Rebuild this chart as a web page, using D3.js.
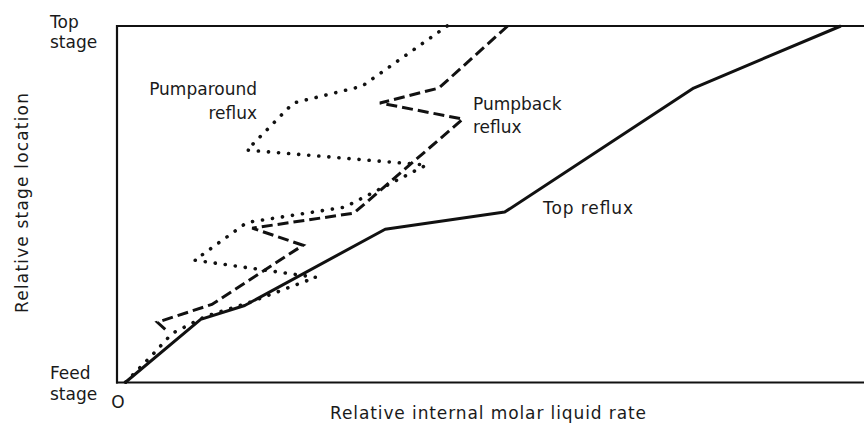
<!DOCTYPE html>
<html>
<head>
<meta charset="utf-8">
<script src="https://cdn.jsdelivr.net/npm/d3@7"></script>
<style>
  html, body { margin: 0; padding: 0; background: #fff; }
  svg { display: block; }
  text { font-family: "DejaVu Sans", "Liberation Sans", sans-serif; font-weight: 400; fill: #1a1a1a; }
</style>
</head>
<body>
<svg id="chart" width="864" height="428"></svg>
<script>
// Relative internal liquid rate (x, % of full scale) vs relative stage location (y, feed = 0, top = 100)
const topRefluxX = [1.1, 11.2, 17.1, 35.9, 51.9, 77.2, 96.9];
const topRefluxY = [0, 17.7, 21.6, 43.0, 47.8, 82.6, 100];

const pumpbackX = [52.3, 43.1, 35.2, 46.3, 31.7, 18.1, 24.9, 12.7, 5.4, 6.6];
const pumpbackY = [100, 82.6, 78.4, 73.9, 47.5, 43.3, 38.5, 21.9, 16.9, 14.6];

const pumparoundX = [44.2, 32.8, 23.6, 17.4, 41.4, 30.5, 17.4, 10.4, 26.6, 17.8, 11.8, 7.4, 4.4, 1.1];
const pumparoundY = [100, 83.1, 78.4, 65.2, 61.0, 49.2, 44.9, 34.3, 29.5, 22.5, 18.5, 13.8, 7.0, 0];

const yEndLabels = [["Top", "stage"], ["Feed", "stage"]];
const xOriginLabel = "O";
const xTitle = "Relative internal molar liquid rate";
const yTitle = "Relative stage location";

const svg = d3.select("#chart");
const x = d3.scaleLinear().domain([0, 100]).range([117, 864]);
const y = d3.scaleLinear().domain([0, 100]).range([382.5, 26]);

const zip = (xs, ys) => xs.map((v, i) => [v, ys[i]]);
const line = d3.line().x(d => x(d[0])).y(d => y(d[1]));

// frame: left, top and bottom edges (the right side runs off the page)
const frame = svg.append("g").attr("stroke", "#111").attr("stroke-width", 2.2).attr("fill", "none");
frame.append("line").attr("x1", x(0)).attr("x2", x(0)).attr("y1", y(100) - 1).attr("y2", y(0) + 1);
frame.append("line").attr("x1", x(0) - 1).attr("x2", 864).attr("y1", y(100)).attr("y2", y(100));
frame.append("line").attr("x1", x(0) - 1).attr("x2", 864).attr("y1", y(0)).attr("y2", y(0));

// profiles
svg.append("path")
  .datum(zip(topRefluxX, topRefluxY))
  .attr("d", line)
  .attr("fill", "none").attr("stroke", "#111").attr("stroke-width", 3)
  .attr("stroke-linejoin", "round");

svg.append("path")
  .datum(zip(pumpbackX, pumpbackY))
  .attr("d", line)
  .attr("fill", "none").attr("stroke", "#111").attr("stroke-width", 3)
  .attr("stroke-dasharray", "11,5")
  .attr("stroke-linejoin", "miter");

svg.append("path")
  .datum(zip(pumparoundX, pumparoundY))
  .attr("d", line)
  .attr("fill", "none").attr("stroke", "#111").attr("stroke-width", 3.6)
  .attr("stroke-linecap", "round")
  .attr("stroke-dasharray", "0.1,10");

// text helper
function label(tx, ty, str, opts = {}) {
  const t = svg.append("text")
    .attr("x", tx).attr("y", ty)
    .attr("font-size", opts.size || 17)
    .attr("text-anchor", opts.anchor || "start")
    .text(str);
  if (opts.width) t.attr("textLength", opts.width).attr("lengthAdjust", "spacing");
  if (opts.rotate) t.attr("transform", `rotate(-90 ${tx} ${ty})`);
  return t;
}

// curve labels
label(257, 95, "Pumparound", { anchor: "end" });
label(257, 119, "reflux", { anchor: "end" });
label(473, 110, "Pumpback");
label(473, 133, "reflux");
label(543, 214, "Top reflux", { width: 90 });

// axis end labels
label(50, 28, yEndLabels[0][0]);
label(50, 48, yEndLabels[0][1]);
label(50, 379, yEndLabels[1][0]);
label(50, 400, yEndLabels[1][1]);
label(118, 408, xOriginLabel, { anchor: "middle" });

// axis titles
label(488, 419, xTitle, { anchor: "middle", width: 316 });
label(28, 203, yTitle, { anchor: "middle", width: 220, rotate: true });
</script>
</body>
</html>
